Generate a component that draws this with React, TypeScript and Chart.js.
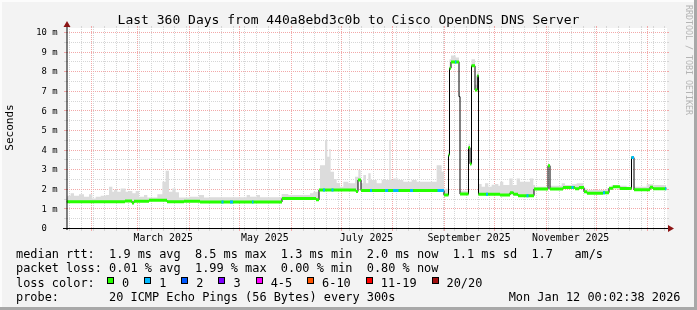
import { useEffect, useRef } from 'react';
import { Chart, registerables } from 'chart.js';

Chart.register(...registerables);

// ---------- text ----------
const TITLE = 'Last 360 Days from 440a8ebd3c0b to Cisco OpenDNS DNS Server';
const Y_AXIS_TITLE = 'Seconds';
const WATERMARK = 'RRDTOOL / TOBI OETIKER';
const STATS_RTT = 'median rtt:  1.9 ms avg  8.5 ms max  1.3 ms min  2.0 ms now  1.1 ms sd  1.7   am/s';
const STATS_LOSS = 'packet loss: 0.01 % avg  1.99 % max  0.00 % min  0.80 % now';
const LOSS_TITLE = 'loss color:';
const PROBE = 'probe:       20 ICMP Echo Pings (56 Bytes) every 300s';
const TIMESTAMP = 'Mon Jan 12 00:02:38 2026';

// ---------- axes ----------
const Y_TICK_VALUES = [0, 1, 2, 3, 4, 5, 6, 7, 8, 9, 10];
const Y_TICK_LABELS = ['0', '1 m', '2 m', '3 m', '4 m', '5 m', '6 m', '7 m', '8 m', '9 m', '10 m'];
const Y_MAX = 10.2;
const X_DAYS = 360;
// month starts (days since graph start): Feb 1 2025 ... Jan 1 2026
const MONTH_START_DAYS = [14.5, 42.5, 73.5, 103.5, 134.5, 164.5, 195.5, 226.5, 256.5, 287.5, 317.5, 348.5];
const MONTH_LABELS = ['March 2025', 'May 2025', 'July 2025', 'September 2025', 'November 2025'];
const MONTH_LABEL_DAYS = [58, 119, 180, 241.5, 302.5];
const FIRST_WEEK_DAY = 1.7;

// ---------- loss legend ----------
const LOSS_LABELS = ['0', '1', '2', '3', '4-5', '6-10', '11-19', '20/20'];
const LOSS_COLORS = ['#26ff00', '#00b8ff', '#0059ff', '#7e00ff', '#ff00ff', '#ff5500', '#ff0000', '#a01010'];

// ---------- data ----------
// median RTT (ms), step changes: day -> value
const MEDIAN_DAYS = [0, 35.1, 39.3, 40.5, 49.5, 60.3, 70.5, 80.1, 129.3, 149.7, 151.5, 173.7, 174.9, 176.7,
  226.5, 229.2, 229.8, 230.7, 235.5, 236.1, 241.2, 242.1, 243, 245.1, 246.5, 247.2,
  260.1, 266.1, 268.2, 270.9, 280.5, 288.9, 290.1, 297.9, 305.1, 307.5, 310.5, 312.3,
  321.9, 325.5, 327.9, 332.1, 339, 340.5, 350.1, 351.9, 360];
const MEDIAN_MS = [1.34, 1.38, 1.27, 1.36, 1.41, 1.34, 1.37, 1.33, 1.51, 1.44, 1.94, 1.86, 2.45, 1.91,
  1.68, 3.72, 8.15, 8.47, 6.7, 1.73, 4.1, 3.27, 8.27, 7.04, 7.77, 1.72,
  1.68, 1.8, 1.72, 1.65, 1.99, 3.18, 1.99, 2.06, 2.0, 2.06, 1.85, 1.77,
  1.8, 2.03, 2.1, 2.02, 3.59, 1.95, 2.08, 2.0, 2.0];

// smoke upper edge (ms)
const SMOKE_DAYS = [0, 0.5, 2.5, 4.5, 7.5, 10.5, 13.5, 15.5, 17.5, 20.5, 23.5, 25.5, 27.5, 28.5, 30.5, 32.5,
  35.5, 37.5, 39.5, 41.5, 43.5, 46.5, 48.5, 54.5, 57.5, 59.5, 61.5, 63.5, 65.5, 67.5, 73.5, 79.5, 82.5,
  86.1, 108.1, 110.1, 114.1, 116.1, 129.1, 133.1, 146.1, 148.1, 151.1, 152.1, 155.1, 156.5, 157.7, 158.5,
  160.5, 162.1, 164.1, 166.1, 169.1, 173.1, 175.1, 176.5, 178.1, 179.7, 181.1, 182.5, 186.1, 189.1, 192.1,
  193.7, 194.5, 196.1, 199.1, 202.1, 207.1, 210.1, 216.1, 222.1, 225.1, 226.5, 229.2, 229.8, 230.7, 233.5,
  235.5, 236.1, 241.2, 242.1, 243, 245.1, 246.5, 247.2, 249.1, 251.1, 253.1, 255.1, 257.1, 259.1, 260.1,
  262.1, 265.7, 267.7, 270.1, 272.1, 278.1, 280.1, 281.1, 288.9, 290.1, 297.1, 299.1, 303.1, 306.1, 310.1,
  312.1, 324.1, 327.1, 331.1, 336.1, 339, 340.5, 348.1, 352.1, 360];
const SMOKE_HIGH = [1.55, 1.65, 1.77, 1.65, 1.72, 1.6, 1.72, 1.51, 1.6, 1.65, 1.68, 2.11, 1.85, 1.94, 1.85, 2.02,
  1.85, 1.89, 1.77, 1.89, 1.6, 1.68, 1.55, 1.72, 2.36, 2.92, 1.85, 2.02, 1.82, 1.55, 1.6, 1.68, 1.55,
  1.57, 1.68, 1.6, 1.68, 1.57, 1.73, 1.68, 1.77, 1.85, 2.0, 3.2, 4.49, 3.64, 4.03, 2.87,
  2.5, 2.3, 2.11, 2.36, 2.28, 2.62, 2.96, 2.28, 2.7, 2.28, 2.79, 2.45, 2.28, 2.45, 2.45,
  4.49, 2.45, 2.53, 2.45, 2.36, 2.45, 2.36, 2.36, 3.2, 2.87, 2.0, 4.0, 8.6, 8.8, 8.7,
  7.0, 1.9, 4.3, 3.5, 8.6, 7.3, 8.0, 2.24, 2.11, 2.28, 2.11, 2.2, 2.24, 2.16, 2.36,
  2.19, 2.53, 2.19, 2.53, 2.36, 2.53, 2.19, 2.11, 3.25, 2.16, 2.28, 2.19, 2.23, 2.28, 2.02,
  1.94, 2.02, 2.19, 2.16, 2.11, 3.65, 2.11, 2.23, 2.19, 2.19];

// periods with 1/20 packet loss (blue)
const LOSS1_START = [93, 98.1, 111.3, 153.9, 159, 182.1, 191.1, 196, 206.1, 222.6, 233.1, 235.5, 251.7, 276, 303, 321.9, 339, 359.1];
const LOSS1_END = [94.2, 99.9, 112.2, 155.1, 160.2, 183.3, 193, 199.2, 207.9, 226.5, 233.9, 236.1, 252.9, 277.2, 304.2, 323.1, 340.5, 360];

// ---------- derived tables ----------
const medianAt = (d: number) => {
  let v = MEDIAN_MS[0];
  for (let i = 0; i < MEDIAN_DAYS.length; i++) if (MEDIAN_DAYS[i] <= d) v = MEDIAN_MS[i];
  return v;
};
const medianPts = MEDIAN_DAYS.map((d, i) => ({ x: d, y: MEDIAN_MS[i] }));
const smokePts = SMOKE_DAYS.map((d, i) => ({ x: d, y: SMOKE_HIGH[i] }));
const greenPts: { x: number; y: number | null }[] = [];
for (let i = 0; i < MEDIAN_DAYS.length - 1; i++) {
  greenPts.push({ x: MEDIAN_DAYS[i], y: MEDIAN_MS[i] }, { x: MEDIAN_DAYS[i + 1], y: MEDIAN_MS[i] }, { x: MEDIAN_DAYS[i + 1], y: null });
}
const bluePts: { x: number; y: number | null }[] = [];
LOSS1_START.forEach((s, i) => {
  const v = medianAt(s);
  bluePts.push({ x: s, y: v }, { x: LOSS1_END[i], y: v }, { x: LOSS1_END[i], y: null });
});

const MONO = '"DejaVu Sans Mono", monospace';
const MINOR = '#d6d6d6';
const MAJOR = '#f2a8a8';

const rrdPlugin = {
  id: 'rrd',
  beforeDraw(chart: any) {
    const { ctx, chartArea: a, scales } = chart;
    const W = chart.width, H = chart.height;
    const xs = scales.x, ys = scales.y;
    ctx.save();
    ctx.fillStyle = '#f3f3f3';
    ctx.fillRect(0, 0, W, H);
    ctx.fillStyle = '#fcfcfc';
    ctx.fillRect(0, 0, W, 2);
    ctx.fillRect(0, 0, 2, H);
    ctx.fillStyle = '#a8a8a8';
    ctx.fillRect(W - 3, 0, 3, H);
    ctx.fillRect(0, H - 3, W, 3);
    ctx.fillStyle = '#ffffff';
    ctx.fillRect(67, a.top, 600, a.bottom - a.top);

    ctx.lineWidth = 1;
    const top = a.top, bot = a.bottom;
    const vline = (xv: number, color: string) => {
      const x = Math.round(xs.getPixelForValue(xv)) + 0.5;
      ctx.strokeStyle = color;
      ctx.setLineDash([1, 1]);
      ctx.beginPath(); ctx.moveTo(x, bot); ctx.lineTo(x, top); ctx.stroke();
      ctx.setLineDash([]);
      ctx.beginPath(); ctx.moveTo(x, top); ctx.lineTo(x, top - 2); ctx.moveTo(x, bot); ctx.lineTo(x, bot + 3); ctx.stroke();
    };
    const hline = (yv: number, color: string) => {
      const y = Math.round(ys.getPixelForValue(yv)) + 0.5;
      ctx.strokeStyle = color;
      ctx.setLineDash([1, 1]);
      ctx.beginPath(); ctx.moveTo(67, y); ctx.lineTo(667, y); ctx.stroke();
      ctx.setLineDash([]);
      ctx.beginPath(); ctx.moveTo(64, y); ctx.lineTo(67, y); ctx.moveTo(667, y); ctx.lineTo(669, y); ctx.stroke();
    };
    for (let d = FIRST_WEEK_DAY; d < X_DAYS; d += 7) vline(d, MINOR);
    for (let v = 0.5; v < Y_MAX; v += 1) hline(v, MINOR);
    MONTH_START_DAYS.forEach((d) => vline(d, MAJOR));
    Y_TICK_VALUES.forEach((v) => { if (v > 0) hline(v, MAJOR); });
    ctx.restore();
  },
  afterDatasetsDraw(chart: any) {
    const { ctx, chartArea: a, scales } = chart;
    const W = chart.width;
    const xs = scales.x, ys = scales.y;
    ctx.save();
    // axes
    ctx.strokeStyle = '#000';
    ctx.lineWidth = 1;
    ctx.beginPath(); ctx.moveTo(67, a.bottom + 2); ctx.lineTo(67, a.top - 4); ctx.stroke();
    ctx.beginPath(); ctx.moveTo(63, a.bottom + 0.5); ctx.lineTo(669, a.bottom + 0.5); ctx.stroke();
    ctx.fillStyle = '#8c1414';
    ctx.beginPath(); ctx.moveTo(63.5, a.top - 1); ctx.lineTo(70.5, a.top - 1); ctx.lineTo(67, a.top - 7); ctx.closePath(); ctx.fill();
    ctx.beginPath(); ctx.moveTo(668, a.bottom - 3); ctx.lineTo(668, a.bottom + 4); ctx.lineTo(674, a.bottom + 0.5); ctx.closePath(); ctx.fill();

    ctx.fillStyle = '#000';
    // y tick labels
    ctx.font = `8.9px ${MONO}`;
    ctx.textAlign = 'right';
    ctx.textBaseline = 'middle';
    Y_TICK_VALUES.forEach((v, i) => {
      ctx.fillText(Y_TICK_LABELS[i].padEnd(3, ' '), 57.5, ys.getPixelForValue(v) + 1);
    });
    // month labels
    ctx.font = `9.9px ${MONO}`;
    ctx.textAlign = 'center';
    ctx.textBaseline = 'alphabetic';
    MONTH_LABEL_DAYS.forEach((d, i) => ctx.fillText(MONTH_LABELS[i], xs.getPixelForValue(d), 241));
    // title
    ctx.font = `13px ${MONO}`;
    ctx.fillText(TITLE, W / 2, 24);
    // y axis title
    ctx.save();
    ctx.translate(10.5, 127.5);
    ctx.rotate(-Math.PI / 2);
    ctx.font = `11px ${MONO}`;
    ctx.textBaseline = 'middle';
    ctx.fillText(Y_AXIS_TITLE, 0, 0);
    ctx.restore();
    // watermark
    ctx.save();
    ctx.translate(688.5, 5);
    ctx.rotate(Math.PI / 2);
    ctx.font = `8.3px ${MONO}`;
    ctx.textAlign = 'left';
    ctx.textBaseline = 'middle';
    ctx.fillStyle = '#b4b4b4';
    ctx.fillText(WATERMARK, 0, 0);
    ctx.restore();
    // legend
    ctx.font = `11.9px ${MONO}`;
    ctx.textAlign = 'left';
    ctx.textBaseline = 'alphabetic';
    ctx.fillStyle = '#000';
    ctx.fillText(STATS_RTT, 16, 257.5);
    ctx.fillText(STATS_LOSS, 16, 272);
    ctx.fillText(LOSS_TITLE, 16, 286.5);
    ctx.fillText(PROBE, 16, 301);
    ctx.textAlign = 'right';
    ctx.fillText(TIMESTAMP, 680.5, 301);
    ctx.textAlign = 'left';
    let bx = 107;
    LOSS_LABELS.forEach((lab, i) => {
      const x = Math.round(bx);
      ctx.fillStyle = LOSS_COLORS[i];
      ctx.fillRect(x, 277, 7, 7);
      ctx.strokeStyle = '#000';
      ctx.strokeRect(x + 0.5, 277.5, 6, 6);
      ctx.fillStyle = '#000';
      const tx = bx + 15;
      ctx.fillText(lab, tx, 286.5);
      bx = tx + ctx.measureText(lab).width + 15;
    });
    ctx.restore();
  },
};

export default function App() {
  const ref = useRef<HTMLCanvasElement>(null);
  useEffect(() => {
    document.body.style.margin = '0';
    const chart = new Chart(ref.current as HTMLCanvasElement, {
      type: 'line',
      data: {
        datasets: [
          {
            label: 'smoke',
            data: smokePts,
            stepped: 'before',
            borderWidth: 0,
            borderColor: 'rgba(0,0,0,0)',
            backgroundColor: '#dcdcdc',
            fill: '+1',
            pointRadius: 0,
            order: 4,
          },
          {
            label: 'median',
            data: medianPts,
            stepped: 'before',
            borderWidth: 1,
            borderColor: '#000000',
            fill: false,
            pointRadius: 0,
            order: 3,
          },
          {
            label: 'loss 0',
            data: greenPts,
            borderWidth: 3,
            borderColor: LOSS_COLORS[0],
            fill: false,
            spanGaps: false,
            pointRadius: 0,
            order: 2,
          },
          {
            label: 'loss 1',
            data: bluePts,
            borderWidth: 3,
            borderColor: LOSS_COLORS[1],
            fill: false,
            spanGaps: false,
            pointRadius: 0,
            order: 1,
          },
        ] as any,
      },
      options: {
        responsive: false,
        animation: false,
        devicePixelRatio: 1,
        events: [],
        layout: { padding: { left: 66.5, right: 30.5, top: 28, bottom: 82 } },
        scales: {
          x: { type: 'linear', min: 0, max: X_DAYS, display: false },
          y: { type: 'linear', min: 0, max: Y_MAX, display: false },
        },
        plugins: { legend: { display: false }, tooltip: { enabled: false }, title: { display: false } },
      },
      plugins: [rrdPlugin],
    });
    return () => chart.destroy();
  }, []);
  return <canvas ref={ref} width={697} height={310} style={{ display: 'block' }} />;
}
